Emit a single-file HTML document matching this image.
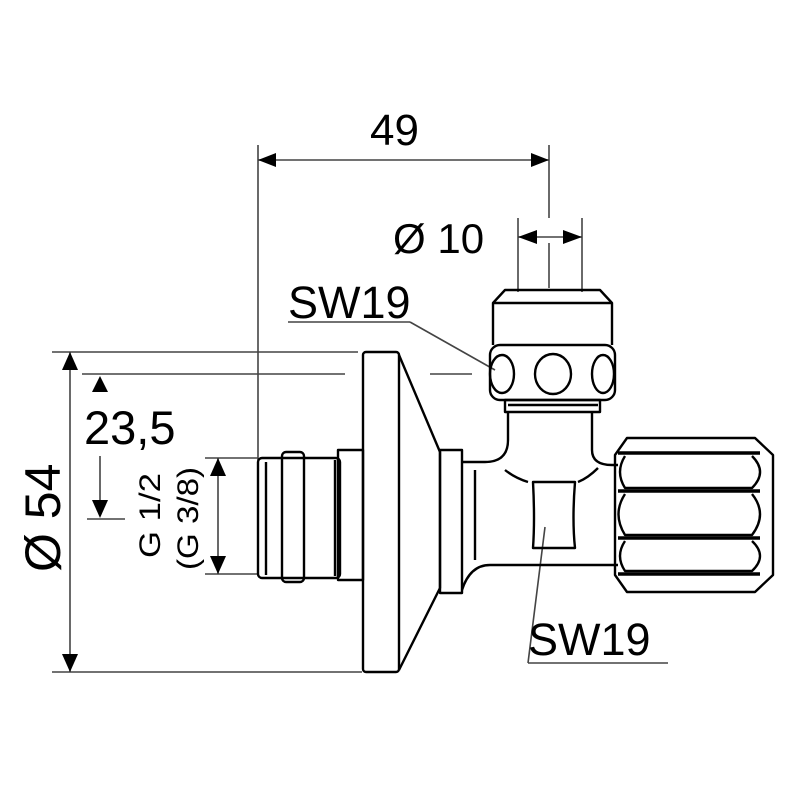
<!DOCTYPE html>
<html><head><style>html,body{margin:0;padding:0;background:#fff}svg{display:block}</style></head>
<body>
<svg width="800" height="800" viewBox="0 0 800 800" xmlns="http://www.w3.org/2000/svg" font-family="Liberation Sans, sans-serif">
<g stroke="#000" fill="none">
<g stroke="#444" stroke-width="1.6">
<line x1="258" y1="145" x2="258" y2="460"/>
<line x1="549" y1="145" x2="549" y2="218"/>
<line x1="258" y1="160" x2="549" y2="160"/>
<line x1="518" y1="218" x2="518" y2="292"/>
<line x1="582" y1="218" x2="582" y2="292"/>
<line x1="549" y1="243" x2="549" y2="288"/>
<line x1="518" y1="237" x2="582" y2="237"/>
<line x1="52" y1="352" x2="358" y2="352"/>
<line x1="82" y1="374" x2="345" y2="374"/>
<line x1="430" y1="374" x2="472" y2="374"/>
<line x1="70" y1="352" x2="70" y2="672"/>
<line x1="52" y1="672" x2="362" y2="672"/>
<line x1="100" y1="456" x2="100" y2="512"/>
<line x1="87" y1="519" x2="125" y2="519"/>
<line x1="205" y1="458" x2="258" y2="458"/>
<line x1="205" y1="574" x2="258" y2="574"/>
<line x1="218" y1="458" x2="218" y2="574"/>
<line x1="288" y1="322" x2="410" y2="322"/>
<line x1="410" y1="322" x2="495" y2="370"/>
<line x1="528" y1="663" x2="668" y2="663"/>
<line x1="528" y1="663" x2="545" y2="527"/>
</g>
<g fill="#000" stroke="none">
<polygon points="258,160 276,153 276,167"/>
<polygon points="549,160 531,153 531,167"/>
<polygon points="518,237 537,230 537,244"/>
<polygon points="582,237 563,230 563,244"/>
<polygon points="70,352 62,370 78,370"/>
<polygon points="70,672 62,654 78,654"/>
<polygon points="100,376 92,392 108,392"/>
<polygon points="100,518 92,500 108,500"/>
<polygon points="218,458 210,476 226,476"/>
<polygon points="218,574 210,556 226,556"/>
</g>
<g stroke-width="2.4" stroke-linejoin="round">
<rect x="258" y="458" width="82" height="120" rx="4"/>
<line x1="266" y1="462" x2="266" y2="575"/>
<rect x="282" y="452" width="22" height="130" rx="4"/>
<line x1="335" y1="460" x2="335" y2="576"/>
<rect x="338" y="450" width="25" height="130"/>
<rect x="363" y="352" width="36" height="320" rx="3"/>
<path d="M399,355 L440,452 L440,588 L399,670"/>
<rect x="440" y="450" width="22" height="143"/>
<path d="M462,462 L485,462 Q508,462 508,440 L508,412"/>
<path d="M462,590 Q470,565 490,565 L618,565"/>
<line x1="475" y1="470" x2="475" y2="560"/>
<path d="M592,412 L592,450 Q592,465 612,465 L618,465"/>
<path d="M505,470 Q515,478 528,482"/>
<path d="M578,482 Q588,478 598,468"/>
<path d="M533,482 Q535,520 533,548 L575,548 Q572,520 575,482 Z"/>
<path d="M493,345 L493,303 L505,290 L600,290 L612,303 L612,345"/>
<line x1="493" y1="303" x2="612" y2="303"/>
<rect x="490" y="345" width="125" height="55" rx="10"/>
<ellipse cx="502" cy="374" rx="12" ry="19"/>
<ellipse cx="553" cy="374" rx="18" ry="20"/>
<ellipse cx="603" cy="374" rx="11" ry="19"/>
<rect x="505" y="400" width="95" height="12"/>
<line x1="508" y1="405" x2="598" y2="405"/>
<path d="M615,455 L627,438 L755,438 L773,455 L773,575 L755,592 L627,592 L615,575 Z"/>
<line x1="618" y1="453" x2="760" y2="453" stroke-width="3.5"/>
<line x1="618" y1="491" x2="760" y2="491" stroke-width="3.5"/>
<line x1="618" y1="538" x2="760" y2="538" stroke-width="3.5"/>
<line x1="618" y1="574" x2="760" y2="574" stroke-width="3.5"/>
<path d="M625,456 Q615,472 625,488 L752,488 Q768,472 752,456"/>
<path d="M625,494 Q612,514 625,535 L752,535 Q768,514 752,494"/>
<path d="M625,541 Q615,556 625,571 L752,571 Q768,556 752,541"/>
</g>
</g>
<g fill="#000">
<text x="370" y="145" font-size="44">49</text>
<text x="393" y="253" font-size="42">Ø 10</text>
<text x="288" y="318" font-size="45">SW19</text>
<text x="84" y="444" font-size="47">23,5</text>
<text x="528" y="655" font-size="45">SW19</text>
<text transform="translate(60,572) rotate(-90)" font-size="50">Ø 54</text>
<text transform="translate(160,558) rotate(-90)" font-size="30" textLength="85" lengthAdjust="spacingAndGlyphs">G 1/2</text>
<text transform="translate(198,570) rotate(-90)" font-size="30" textLength="103" lengthAdjust="spacingAndGlyphs">(G 3/8)</text>
</g>
</svg>
</body></html>
